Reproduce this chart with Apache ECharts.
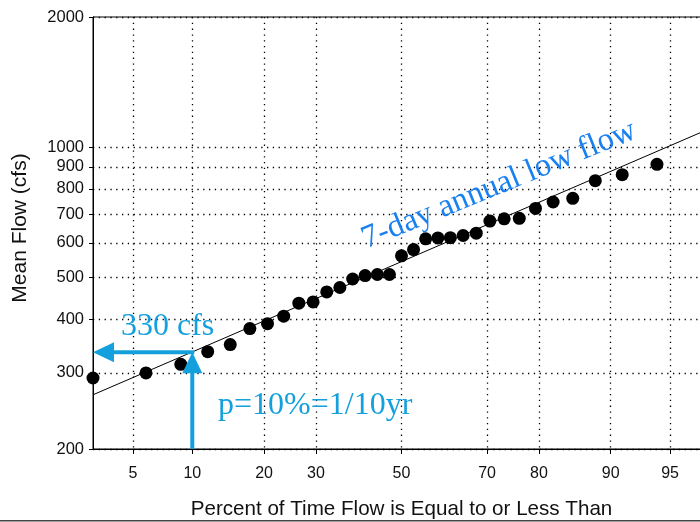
<!DOCTYPE html>
<html><head><meta charset="utf-8">
<script src="https://cdn.jsdelivr.net/npm/echarts@6/dist/echarts.min.js"></script>
<style>html,body{margin:0;padding:0;overflow:hidden;background:#fff;width:700px;height:522px}#c{width:720px;height:522px}</style>
</head><body><div id="c"></div>
<script>
// ---- data ----
const percentTicks = [5, 10, 20, 30, 50, 70, 80, 90, 95];
const flowTicks = [200, 300, 400, 500, 600, 700, 800, 900, 1000, 2000];
const percentRange = [2.94, 97.06];
const flowRange = [200, 2000];
const plotPercent = [2.94, 5.88, 8.82, 11.76, 14.71, 17.65, 20.59, 23.53, 26.47, 29.41, 32.35, 35.29, 38.24, 41.18, 44.12, 47.06,
                     50.00, 52.94, 55.88, 58.82, 61.76, 64.71, 67.65, 70.59, 73.53, 76.47, 79.41, 82.35, 85.29, 88.24, 91.18, 94.12];
const meanFlow = [292, 300, 314, 336, 349, 380, 390, 406, 435, 438, 462, 473, 495, 504, 507, 507,
                  560, 579, 613, 616, 617, 624, 632, 674, 682, 684, 721, 746, 761, 836, 863, 912];
const fitPercent = [2.94, 97.06];
const fitFlow = [267, 1104];
const designPercent = 10;
const designFlow = 335;
const designLabel = '330 cfs';
const probLabel = 'p=10%=1/10yr';
const seriesLabel = '7-day annual low flow';
const xName = 'Percent of Time Flow is Equal to or Less Than';
const yName = 'Mean Flow (cfs)';

// ---- scale helpers (normal-probability x, log10 y) ----
function normInv(p){
  const a=[-3.969683028665376e+01,2.209460984245205e+02,-2.759285104469687e+02,1.383577518672690e+02,-3.066479806614716e+01,2.506628277459239e+00];
  const b=[-5.447609879822406e+01,1.615858368580409e+02,-1.556989798598866e+02,6.680131188771972e+01,-1.328068155288572e+01];
  const c=[-7.784894002430293e-03,-3.223964580411365e-01,-2.400758277161838e+00,-2.549732539343734e+00,4.374664141464968e+00,2.938163982698783e+00];
  const d=[7.784695709041462e-03,3.224671290700398e-01,2.445134137142996e+00,3.754408661907416e+00];
  const pl=0.02425, ph=1-pl; let q, r;
  if(p<pl){q=Math.sqrt(-2*Math.log(p));return (((((c[0]*q+c[1])*q+c[2])*q+c[3])*q+c[4])*q+c[5])/((((d[0]*q+d[1])*q+d[2])*q+d[3])*q+1);}
  if(p<=ph){q=p-0.5;r=q*q;return (((((a[0]*r+a[1])*r+a[2])*r+a[3])*r+a[4])*r+a[5])*q/(((((b[0]*r+b[1])*r+b[2])*r+b[3])*r+b[4])*r+1);}
  q=Math.sqrt(-2*Math.log(1-p));return -(((((c[0]*q+c[1])*q+c[2])*q+c[3])*q+c[4])*q+c[5])/((((d[0]*q+d[1])*q+d[2])*q+d[3])*q+1);
}
const zOf = pc => normInv(pc / 100);
const lg = q => Math.log10(q);

const xTickVals = percentTicks.map(zOf);
const yTickVals = flowTicks.map(lg);
const pts = plotPercent.map((p, i) => [zOf(p), lg(meanFlow[i])]);
const fitPts = fitPercent.map((p, i) => [zOf(p), lg(fitFlow[i])]);

const sans = '"Liberation Sans", Arial, sans-serif';
const serif = '"Liberation Serif", "Times New Roman", serif';
const dotted = { color: '#000', width: 1.3, type: [1.3, 4.5] };

const chart = echarts.init(document.getElementById('c'), null, { renderer: 'canvas' });
chart.setOption({
  animation: false,
  backgroundColor: '#fff',
  grid: { left: 93, top: 17, width: 617, height: 432, show: true, borderColor: '#000', borderWidth: 1, containLabel: false, outerBoundsMode: 'none' },
  xAxis: {
    type: 'value', min: zOf(percentRange[0]), max: zOf(percentRange[1]),
    name: xName, nameLocation: 'middle', nameGap: 50,
    nameTextStyle: { fontFamily: sans, fontSize: 20.6, color: '#111' },
    axisLine: { onZero: false, lineStyle: { color: '#000', width: 1 } },
    axisTick: { customValues: xTickVals, length: 5, lineStyle: { color: '#000' } },
    axisLabel: { customValues: xTickVals, margin: 17, fontFamily: sans, fontSize: 16, color: '#111',
      formatter: v => { const i = xTickVals.findIndex(t => Math.abs(t - v) < 1e-6); return i >= 0 ? String(percentTicks[i]) : ''; } },
    splitLine: { show: true, lineStyle: dotted }
  },
  yAxis: {
    type: 'value', min: lg(flowRange[0]), max: lg(flowRange[1]),
    name: yName, nameLocation: 'middle', nameGap: 62,
    nameTextStyle: { fontFamily: sans, fontSize: 21, color: '#111', padding: [0, 0, 0, 10] },
    axisLine: { show: true, onZero: false, lineStyle: { color: '#000', width: 1 } },
    axisTick: { show: true, customValues: yTickVals, length: 4, lineStyle: { color: '#000' } },
    axisLabel: { customValues: yTickVals, margin: 9, fontFamily: sans, fontSize: 16.5, color: '#111',
      formatter: v => String(Math.round(Math.pow(10, v))) },
    splitLine: { show: true, lineStyle: dotted }
  },
  series: [
    { type: 'line', data: fitPts, symbol: 'none', lineStyle: { color: '#000', width: 1 }, z: 3 },
    { type: 'scatter', data: pts, symbol: 'circle', symbolSize: 13, itemStyle: { color: '#000', opacity: 1 }, z: 4 }
  ]
});

// ---- annotations positioned through the chart's own scales ----
const tip = chart.convertToPixel({ gridIndex: 0 }, [zOf(designPercent), lg(designFlow)]);
const leftEdge = chart.convertToPixel({ gridIndex: 0 }, [zOf(percentRange[0]), lg(designFlow)]);
const bottomEdge = chart.convertToPixel({ gridIndex: 0 }, [zOf(designPercent), lg(flowRange[0])]);
const arrowBlue = '#14a0dc';
const headL = 21, headW = 10, shaft = 4;
chart.setOption({
  graphic: [
    { type: 'line', shape: { x1: tip[0] + 2, y1: tip[1], x2: leftEdge[0] + headL - 1, y2: tip[1] }, style: { stroke: arrowBlue, lineWidth: shaft }, z: 10 },
    { type: 'polygon', shape: { points: [[leftEdge[0], tip[1]], [leftEdge[0] + headL, tip[1] - headW], [leftEdge[0] + headL, tip[1] + headW]] }, style: { fill: arrowBlue }, z: 10 },
    { type: 'line', shape: { x1: tip[0], y1: bottomEdge[1], x2: tip[0], y2: tip[1] + headL - 1 }, style: { stroke: arrowBlue, lineWidth: shaft }, z: 10 },
    { type: 'polygon', shape: { points: [[tip[0], tip[1]], [tip[0] - headW, tip[1] + headL], [tip[0] + headW, tip[1] + headL]] }, style: { fill: arrowBlue }, z: 10 },
    { type: 'text', x: 121, y: 326.5, style: { text: designLabel, fill: arrowBlue, font: '32px ' + serif, align: 'left', verticalAlign: 'middle' }, z: 10 },
    { type: 'text', x: 218, y: 406, style: { text: probLabel, fill: arrowBlue, font: '32px ' + serif, align: 'left', verticalAlign: 'middle' }, z: 10 },
    { type: 'text', x: 499, y: 185, rotation: 22.3 * Math.PI / 180, style: { text: seriesLabel, fill: '#1a80f0', font: '32.5px ' + serif, align: 'center', verticalAlign: 'middle' }, z: 10 },
    { type: 'line', shape: { x1: 0, y1: 520.8, x2: 700, y2: 520.8 }, style: { stroke: '#444', lineWidth: 1.5 }, z: 10 }
  ]
});
</script></body></html>
